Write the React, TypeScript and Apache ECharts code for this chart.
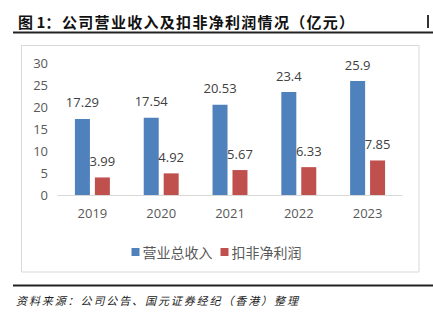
import React, { useEffect, useRef } from "react";
import * as echarts from "echarts";

const categories = ["2019", "2020", "2021", "2022", "2023"];
const revenue = [17.29, 17.54, 20.53, 23.4, 25.9];
const netProfit = [3.99, 4.92, 5.67, 6.33, 7.85];
const seriesNames = ["营业总收入", "扣非净利润"];
const titlePrefix = "图 1：";
const titleBody = "公司营业收入及扣非净利润情况（亿元）";
const sourceText = "资料来源：公司公告、国元证券经纪（香港）整理";

export default function App() {
  const ref = useRef<HTMLDivElement>(null);
  useEffect(() => {
    if (!ref.current) return;
    const chart = echarts.init(ref.current, null, { renderer: "svg" });
    const titleChars = titleBody.split("").map((ch, i) => ({
      type: "text",
      left: 62 + i * 16.3,
      top: 14,
      style: {
        text: ch,
        font: "bold 15px 'Noto Sans CJK SC'",
        fill: "#111",
      },
    }));
    const sourceChars = sourceText.split("").map((ch, i) => ({
      type: "text",
      left: 16 + i * 12.9,
      top: 294,
      style: {
        text: ch,
        font: "italic 11px 'Noto Sans CJK SC'",
        fill: "#222",
      },
    }));
    const labelStyle = {
      show: true,
      position: "top" as const,
      distance: 10,
      fontSize: 13,
      fontFamily: "'Open Sans', sans-serif",
      color: "#404040",
    };
    chart.setOption({
      animation: false,
      backgroundColor: "#fff",
      grid: { left: 58, right: 31, top: 63, bottom: 130 },
      legend: {
        data: seriesNames,
        left: "center",
        top: 240,
        itemWidth: 8,
        itemHeight: 8,
        itemGap: 8,
        icon: "rect",
        textStyle: {
          fontSize: 14,
          color: "#595959",
          fontFamily: "'Noto Sans CJK SC'",
          padding: [0, 0, 0, -2],
        },
      },
      xAxis: {
        type: "category",
        data: categories,
        axisLine: { lineStyle: { color: "#D9D9D9", width: 1 } },
        axisTick: { show: false },
        axisLabel: {
          color: "#595959",
          fontSize: 13,
          fontFamily: "'Open Sans', sans-serif",
          margin: 11,
        },
      },
      yAxis: {
        type: "value",
        min: 0,
        max: 30,
        interval: 5,
        splitLine: { show: false },
        axisLine: { show: false },
        axisTick: { show: false },
        axisLabel: {
          color: "#595959",
          fontSize: 13,
          fontFamily: "'Open Sans', sans-serif",
          margin: 10,
        },
      },
      series: [
        {
          name: seriesNames[0],
          type: "bar",
          data: revenue,
          barWidth: 15,
          barGap: "33%",
          itemStyle: { color: "#4F81BD" },
          label: labelStyle,
        },
        {
          name: seriesNames[1],
          type: "bar",
          data: netProfit,
          barWidth: 15,
          itemStyle: { color: "#C0504D" },
          label: labelStyle,
        },
      ],
      graphic: [
        {
          type: "text",
          left: 18,
          top: 14,
          style: {
            text: titlePrefix,
            font: "bold 15px 'Noto Sans CJK SC'",
            fill: "#111",
          },
        },
        ...titleChars,
        {
          type: "rect",
          shape: { x: 427, y: 15, width: 2, height: 13 },
          style: { fill: "#333" },
        },
        {
          type: "line",
          shape: { x1: 13, y1: 32.5, x2: 433, y2: 32.5 },
          style: { stroke: "#222", lineWidth: 2 },
        },
        {
          type: "rect",
          shape: { x: 21.5, y: 45.5, width: 397.5, height: 226.5 },
          style: { fill: "none", stroke: "#D9D9D9", lineWidth: 1 },
          z: -1,
        },
        {
          type: "line",
          shape: { x1: 13, y1: 285.5, x2: 433, y2: 285.5 },
          style: { stroke: "#222", lineWidth: 2 },
        },
        ...sourceChars,
      ],
    });
    return () => chart.dispose();
  }, []);
  return (
    <div
      ref={ref}
      style={{ position: "absolute", left: 0, top: 0, width: 433, height: 325 }}
    />
  );
}
